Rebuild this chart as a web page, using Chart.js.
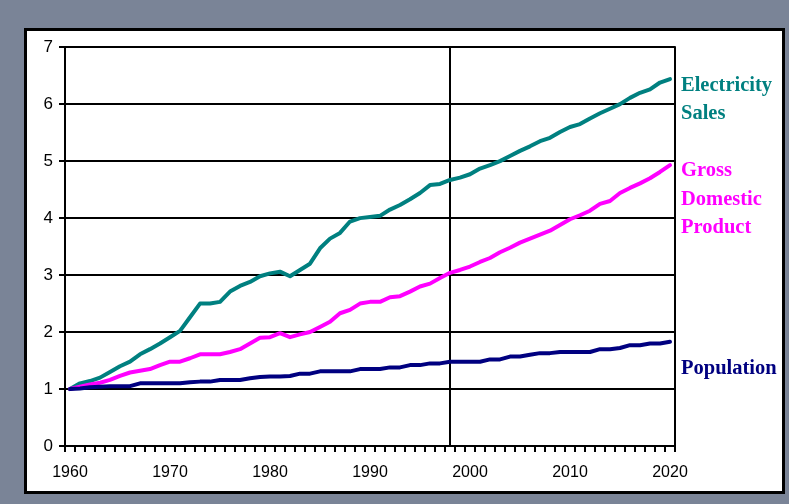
<!DOCTYPE html>
<html>
<head>
<meta charset="utf-8">
<script src="https://cdn.jsdelivr.net/npm/chart.js@4"></script>
<style>
  html, body { margin: 0; padding: 0; }
  body { width: 789px; height: 504px; background: #7a8497; position: relative; overflow: hidden; }
  #box { position: absolute; left: 24px; top: 28px; width: 755px; height: 460px; border: 3px solid #000; background: #fff; }
</style>
</head>
<body>
<div id="box"><canvas id="chart" width="755" height="460"></canvas></div>
<script>
// years 1960..2020, index relative to 1960
const years = []
for (let y = 1960; y <= 2020; y++) years.push(String(y))

const electricity = [
  1.00, 1.10, 1.14, 1.20, 1.30, 1.40, 1.48, 1.61, 1.70, 1.80,
  1.91, 2.02, 2.26, 2.50, 2.50, 2.53, 2.71, 2.81, 2.88, 2.98,
  3.03, 3.06, 2.98, 3.09, 3.20, 3.47, 3.64, 3.74, 3.94, 4.00,
  4.02, 4.04, 4.15, 4.23, 4.33, 4.44, 4.58, 4.60, 4.67, 4.71,
  4.77, 4.87, 4.93, 5.00, 5.09, 5.18, 5.26, 5.35, 5.41, 5.51,
  5.60, 5.65, 5.75, 5.84, 5.92, 6.00, 6.11, 6.20, 6.26, 6.38,
  6.44
]
const gdp = [
  1.00, 1.04, 1.08, 1.11, 1.16, 1.23, 1.29, 1.32, 1.35, 1.42,
  1.48, 1.48, 1.54, 1.61, 1.61, 1.61, 1.65, 1.70, 1.80, 1.90,
  1.91, 1.98, 1.91, 1.96, 2.00, 2.09, 2.18, 2.33, 2.39, 2.50,
  2.53, 2.53, 2.61, 2.63, 2.71, 2.80, 2.85, 2.95, 3.04, 3.09,
  3.15, 3.23, 3.30, 3.40, 3.48, 3.57, 3.64, 3.71, 3.78, 3.88,
  3.98, 4.05, 4.13, 4.25, 4.30, 4.44, 4.53, 4.61, 4.70, 4.81,
  4.93
]
const population = [
  1.00, 1.01, 1.03, 1.04, 1.05, 1.05, 1.05, 1.10, 1.10, 1.10,
  1.10, 1.10, 1.12, 1.13, 1.13, 1.16, 1.16, 1.16, 1.19, 1.21,
  1.22, 1.22, 1.23, 1.27, 1.27, 1.31, 1.31, 1.31, 1.31, 1.35,
  1.35, 1.35, 1.38, 1.38, 1.42, 1.42, 1.45, 1.45, 1.48, 1.48,
  1.48, 1.48, 1.52, 1.52, 1.57, 1.57, 1.60, 1.63, 1.63, 1.65,
  1.65, 1.65, 1.65, 1.70, 1.70, 1.72, 1.77, 1.77, 1.80, 1.80,
  1.83
]
const yTicks = [0, 1, 2, 3, 4, 5, 6, 7]
const dividerYear = '1998'

const TEAL = '#008080'
const MAGENTA = '#ff00ff'
const NAVY = '#000080'

// right side series names, anchored on the y value of their first line
const seriesNames = [
  { lines: ['Electricity', 'Sales'], at: 6.33, color: TEAL },
  { lines: ['Gross', 'Domestic', 'Product'], at: 4.83, color: MAGENTA },
  { lines: ['Population'], at: 1.36, color: NAVY }
]

const framePlugin = {
  id: 'frame',
  beforeDatasetsDraw(chart) {
    const { ctx, chartArea: a, scales } = chart
    ctx.save()
    ctx.strokeStyle = '#000'
    ctx.lineWidth = 2
    const xd = Math.round(scales.x.getPixelForValue(years.indexOf(dividerYear)))
    ctx.beginPath()
    ctx.moveTo(xd, a.top)
    ctx.lineTo(xd, a.bottom)
    ctx.moveTo(a.right, a.top - 1)
    ctx.lineTo(a.right, a.bottom + 1)
    ctx.stroke()
    ctx.restore()
  },
  afterDraw(chart) {
    const { ctx, chartArea: a, scales } = chart
    ctx.save()
    ctx.font = 'bold 20.5px "Liberation Serif", "Times New Roman", serif'
    ctx.textBaseline = 'middle'
    ctx.textAlign = 'left'
    seriesNames.forEach((s) => {
      const y0 = scales.y.getPixelForValue(s.at)
      ctx.fillStyle = s.color
      s.lines.forEach((t, i) => ctx.fillText(t, a.right + 6, y0 + i * 28.5))
    })
    ctx.restore()
  }
}

const line = (data, color) => ({
  data: data,
  borderColor: color,
  backgroundColor: color,
  borderWidth: 4,
  pointRadius: 0,
  tension: 0,
  borderCapStyle: 'round',
  borderJoinStyle: 'round'
})

new Chart(document.getElementById('chart'), {
  type: 'line',
  data: {
    labels: years,
    datasets: [
      line(population, NAVY),
      line(gdp, MAGENTA),
      line(electricity, TEAL)
    ]
  },
  options: {
    responsive: false,
    animation: false,
    layout: { padding: { left: 0, right: 107, top: 16, bottom: 0 } },
    plugins: { legend: { display: false }, tooltip: { enabled: false } },
    scales: {
      x: {
        offset: true,
        afterFit: (s) => { s.height = 45 },
        grid: { offset: true, drawOnChartArea: false, color: '#000', lineWidth: 2, tickLength: 6 },
        border: { color: '#000', width: 2 },
        ticks: {
          autoSkip: false,
          maxRotation: 0,
          padding: 11,
          color: '#000',
          font: { family: '"Liberation Sans", Arial, sans-serif', size: 16 },
          callback: function (v, i) { return i % 10 === 0 ? years[i] : '' }
        }
      },
      y: {
        min: yTicks[0],
        max: yTicks[yTicks.length - 1],
        afterFit: (s) => { s.width = 38 },
        afterBuildTicks: (s) => { s.ticks = yTicks.map((v) => ({ value: v })) },
        grid: { color: '#000', lineWidth: 2, tickLength: 6 },
        border: { color: '#000', width: 2 },
        ticks: {
          padding: 6,
          color: '#000',
          font: { family: '"Liberation Sans", Arial, sans-serif', size: 17 }
        }
      }
    }
  },
  plugins: [framePlugin]
})
</script>
</body>
</html>
